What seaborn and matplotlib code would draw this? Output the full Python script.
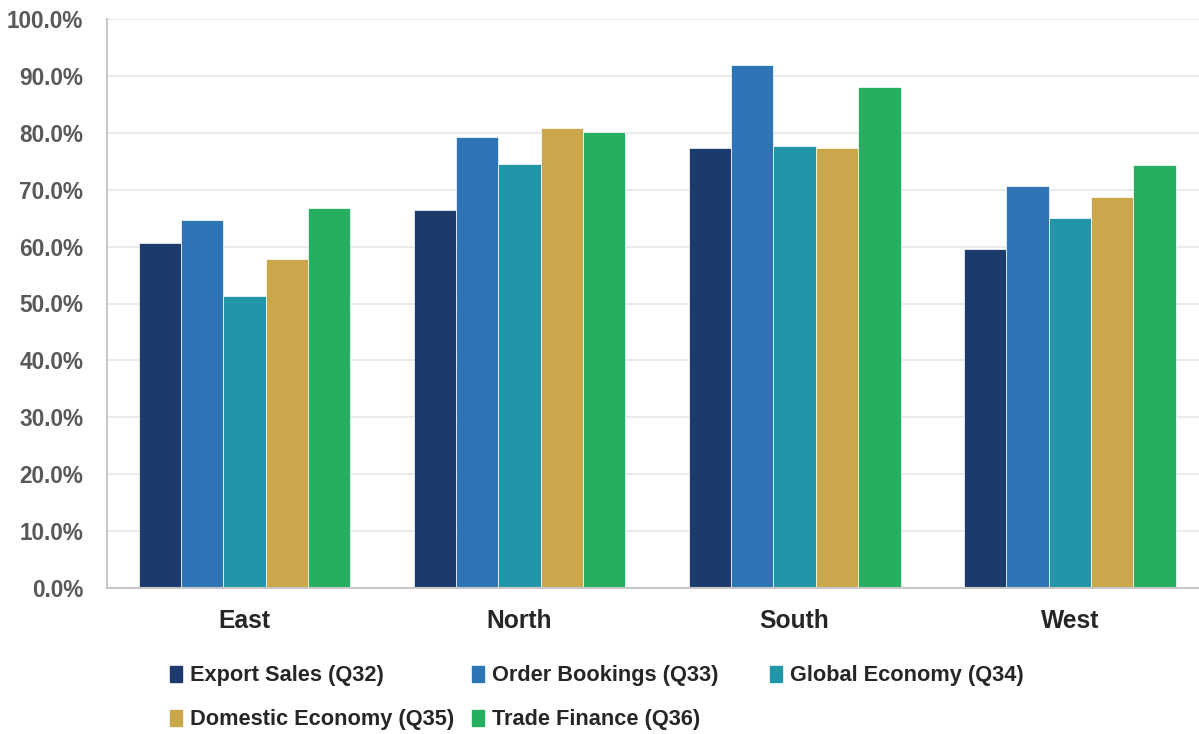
import matplotlib
matplotlib.use("Agg")
import matplotlib.pyplot as plt
import seaborn as sns
import pandas as pd
from matplotlib.ticker import PercentFormatter

regions = ["East", "North", "South", "West"]
series = [
    "Export Sales (Q32)",
    "Order Bookings (Q33)",
    "Global Economy (Q34)",
    "Domestic Economy (Q35)",
    "Trade Finance (Q36)",
]
export_sales = [60.6, 66.5, 77.3, 59.6]
order_bookings = [64.7, 79.3, 92.0, 70.6]
global_economy = [51.4, 74.5, 77.6, 65.1]
domestic_economy = [57.8, 80.8, 77.3, 68.8]
trade_finance = [66.7, 80.1, 88.0, 74.3]
colors = ["#1C3A6B", "#2E75B6", "#2296A8", "#C9A74A", "#27AE60"]

values = [export_sales, order_bookings, global_economy, domestic_economy, trade_finance]
df = pd.DataFrame(
    [(r, s, v) for s, vals in zip(series, values) for r, v in zip(regions, vals)],
    columns=["Region", "Series", "Value"],
)

sns.set_theme(style="white")
plt.rcParams["font.family"] = ["Liberation Sans", "DejaVu Sans"]

fig = plt.figure(figsize=(11.99, 7.34), dpi=100)
W, H = 1199, 734
ax = fig.add_axes([107 / W, 1 - 588 / H, (1199 - 107) / W, (588 - 19) / H])

sns.barplot(
    data=df, x="Region", y="Value", hue="Series", hue_order=series,
    order=regions, palette=colors, width=0.77, ax=ax,
    edgecolor="white", linewidth=0.5, saturation=1, legend=False,
)

ax.set_xlim(-0.5, 3.47)
ax.set_ylim(0, 100)
ax.set_yticks(range(0, 101, 10))
ax.yaxis.set_major_formatter(PercentFormatter(decimals=1))
ax.grid(axis="y", color="#E8E8E8", linewidth=1.3)
ax.set_axisbelow(True)
for side in ["top", "right"]:
    ax.spines[side].set_visible(False)
ax.spines["left"].set_color("#C8C8C8")
ax.spines["left"].set_linewidth(1.5)
ax.spines["bottom"].set_color("#C8C8C8")
ax.spines["bottom"].set_linewidth(1.5)
ax.set_xlabel("")
ax.set_ylabel("")
ax.tick_params(axis="y", length=0, pad=17, labelsize=16.3, labelcolor="#595959")
ax.tick_params(axis="x", length=0, pad=15, labelsize=17.7, labelcolor="#262626")
for lbl in ax.get_yticklabels() + ax.get_xticklabels():
    lbl.set_fontweight("bold")

# legend on an even grid: three equal-width slots on the first row, two on the second
slot_x = [170, 472, 770, 170, 472]
slot_y = [676, 676, 676, 720, 720]
for name, color, x, y in zip(series, colors, slot_x, slot_y):
    leg = fig.legend(
        [plt.Rectangle((0, 0), 1, 1, color=color)], [name],
        loc="center left", bbox_to_anchor=(x / W, 1 - y / H),
        frameon=False, handlelength=0.55, handleheight=0.75, handletextpad=0.37,
        borderpad=0, borderaxespad=0,
        prop={"weight": "bold", "size": 15.7},
    )
    for t in leg.get_texts():
        t.set_color("#262626")

fig.savefig("out.png", dpi=100)
